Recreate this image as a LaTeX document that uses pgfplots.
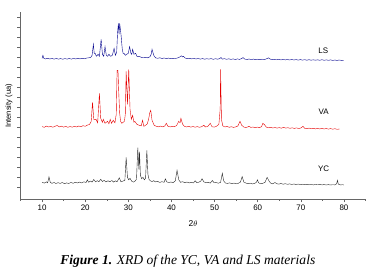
\documentclass[border=0pt]{standalone}
\usepackage{pgfplots}
\pgfplotsset{compat=1.18}
\usepackage{fontspec}
\setmainfont{Liberation Sans}
\newfontfamily\capfont{Liberation Serif}
\begin{document}
\begin{tikzpicture}
\begin{axis}[
  scale only axis,
  width=345bp, height=187bp,
  xmin=5, xmax=85, ymin=0, ymax=187,
  axis x line*=bottom, axis y line*=left,
  axis line style={draw=black!60, line width=0.5pt},
  tick align=outside,
  tick style={draw=black!60, line width=0.4pt},
  major tick length=3bp, minor tick length=1.5bp,
  xtick={10,20,...,80}, minor xtick={5,15,...,85},
  ytick={12,22,...,182}, yticklabels={},
  /pgf/number format/assume math mode=true,
  ticklabel style={font=\fontsize{8}{9}\selectfont},
  xticklabel style={yshift=1bp},
  xlabel={2$\theta$},
  xlabel style={font=\fontsize{8.5}{10}\selectfont, at={(axis description cs:0.5,0)}, anchor=center, yshift=-24bp},
  ylabel={Intensity (ua)},
  ylabel style={font=\fontsize{7.6}{9}\selectfont, at={(axis description cs:-0.0333,0.5)}, anchor=center},
  clip=false,
]
% YC
\addplot[black!85, line width=0.4pt] coordinates {
(10.0,17) (10.5,16.2) (11.0,17.4) (11.3,16.5) (11.6,22.5) (11.9,17) (12.3,16) (12.8,16.8) (13.2,15.8) (13.7,16.6)
(14.2,15.9) (14.7,16.8) (15.2,15.6) (15.7,16.4) (16.2,15.8) (16.7,16.9) (17.2,16) (17.7,17) (18.2,16.3) (18.7,17.2)
(19.2,16.4) (19.7,17.5) (20.2,16.8) (20.5,19.5) (20.8,17) (21.2,18.3) (21.6,17.2) (22.0,19.8) (22.4,17.5) (22.8,18.6)
(23.2,17.6) (23.6,20) (24.0,17.8) (24.4,18.9) (24.8,17.4) (25.3,18.5) (25.7,17.6) (26.2,18.8) (26.6,17.2) (27.0,18.4)
(27.4,17.6) (27.9,21.5) (28.3,17.5) (28.8,18.3) (29.2,19) (29.5,42) (29.8,22) (30.1,19.5) (30.4,21) (30.8,18)
(31.2,17.2) (31.6,18.4) (31.9,20) (32.2,51.7) (32.45,30) (32.6,47.7) (32.8,24) (33.1,20.5) (33.4,22) (33.7,19.5)
(34.0,21) (34.3,49) (34.55,25) (34.8,20) (35.1,18.5) (35.5,17.8) (35.9,18.6) (36.3,17.4) (36.8,17.9) (37.3,16.9)
(37.8,17.6) (38.3,17) (38.6,20.5) (38.9,17.4) (39.4,16.8) (39.9,17.3) (40.4,16.6) (40.9,18.5) (41.3,29) (41.7,19.5)
(42.1,17) (42.6,17.6) (43.1,16.6) (43.6,17.3) (44.1,16.4) (44.6,17) (45.1,16.3) (45.5,18.5) (45.9,16.6) (46.4,17.2)
(46.8,18.2) (47.1,20.5) (47.5,17.5) (48.0,16.5) (48.5,17) (49.0,16.2) (49.5,18.8) (49.9,16.5) (50.4,16.8) (50.9,16.1)
(51.4,17) (51.8,26) (52.1,18.5) (52.5,16.3) (53.0,15.9) (53.5,16.4) (54.0,15.7) (54.5,16.2) (55.0,15.5) (55.5,16)
(56.0,17.2) (56.4,22.7) (56.8,17.2) (57.3,16.2) (57.8,15.6) (58.3,16.1) (58.8,15.4) (59.3,15.9) (59.7,17) (59.95,19.5)
(60.2,16.5) (60.7,15.5) (61.2,16) (61.7,17) (62.2,22) (62.6,18.5) (63.0,16.2) (63.5,15.5) (64.0,16.8) (64.4,15.6)
(64.9,15.2) (65.4,15.8) (65.9,15.1) (66.4,15.6) (66.9,15) (67.4,15.4) (67.9,14.9) (68.4,15.3) (68.9,14.8) (69.4,15.2)
(69.9,14.7) (70.4,15.1) (70.9,14.6) (71.4,15) (71.9,14.5) (72.4,14.9) (72.9,14.4) (73.4,14.8) (73.9,14.5) (74.4,15)
(74.9,14.4) (75.4,14.8) (75.9,14.3) (76.4,14.7) (76.9,14.3) (77.4,14.6) (77.9,14.4) (78.3,15.5) (78.5,19) (78.7,15.2)
(79.2,14.4) (79.7,14.6) (80.0,14.3)
};
% VA
\addplot[red!90!black, line width=0.4pt] coordinates {
(10.0,72.7) (10.5,72) (11.0,73.2) (11.5,72.3) (12.0,72.9) (12.5,72.1) (13.0,73) (13.5,73.8) (14.0,72.4) (14.5,73.1)
(15.0,72.2) (15.5,72.9) (16.0,72) (16.5,72.8) (17.0,72.1) (17.5,73) (18.0,72.3) (18.5,73.3) (19.0,72.6) (19.5,73.6)
(20.0,73) (20.5,74.2) (21.0,74.8) (21.4,78) (21.7,97) (22.0,80) (22.5,80) (22.9,76.5) (23.3,106) (23.6,81)
(24.0,77) (24.2,80) (24.6,76) (25.2,78) (25.5,75.5) (25.8,80) (26.1,76) (26.5,79) (26.9,76.5) (27.2,85)
(27.4,129) (27.6,129) (27.8,105) (28.0,86) (28.2,78) (28.5,76) (28.8,77) (29.1,78) (29.3,85) (29.5,128)
(29.8,95) (30.1,130) (30.4,90) (30.7,80) (31.0,84) (31.3,77) (31.5,78) (32.0,75) (32.5,74) (33.0,73.5)
(33.3,79) (33.6,73) (34.0,74) (34.4,75.5) (34.7,80) (35.0,87) (35.2,89) (35.5,79) (36.0,74) (36.5,73)
(37.0,72.5) (37.5,73.2) (38.0,72.4) (38.5,73.5) (38.8,76) (39.2,73) (39.7,72.4) (40.2,73) (40.7,72.6) (41.2,73.8)
(41.7,78) (42.0,76.5) (42.2,81) (42.6,75) (43.0,73) (43.5,72.3) (44.0,73) (44.5,72.2) (45.0,72.8) (45.5,72.1)
(46.0,72.7) (46.5,72) (47.0,72.6) (47.5,74) (47.9,72.3) (48.4,72.8) (49.0,76) (49.4,72.6) (49.9,72.2) (50.4,72.9)
(51.0,75) (51.3,90) (51.4,130) (51.6,80) (51.9,73.5) (52.4,72.3) (52.9,72.9) (53.4,72) (53.9,72.6) (54.4,71.9)
(54.9,72.4) (55.4,73.3) (55.9,78) (56.3,74) (56.8,72.2) (57.3,71.8) (57.7,72.4) (58.0,73) (58.4,71.9) (58.9,72.3)
(59.4,71.6) (59.9,72.2) (60.4,71.7) (60.9,72.6) (61.2,76) (61.6,74.5) (62.0,72.2) (62.5,71.5) (63.0,72) (63.5,71.3)
(64.0,71.8) (64.5,71.2) (65.0,71.7) (65.5,71.1) (66.0,72) (66.5,71.2) (67.0,71.6) (67.5,71) (68.0,71.5) (68.5,70.9)
(69.0,71.4) (69.5,70.8) (70.0,71.3) (70.5,73) (70.9,71) (71.4,70.6) (71.9,71.2) (72.4,70.5) (72.9,71) (73.4,70.4)
(73.9,70.9) (74.4,70.3) (74.9,71) (75.4,70.3) (75.9,70.8) (76.4,70.2) (76.9,70.7) (77.4,70.1) (77.9,70.6) (78.4,70) (79.0,70.3)
};
% LS
\addplot[blue!55!black, line width=0.4pt] coordinates {
(10.0,141) (10.2,144) (10.4,141) (10.8,140.4) (11.3,141) (11.8,140.3) (12.3,140.9) (12.8,140.2) (13.3,140.8) (13.8,140.2)
(14.3,140.7) (14.8,140.1) (15.3,140.7) (15.8,140.2) (16.3,140.8) (16.8,140.2) (17.3,140.9) (17.8,140.3) (18.3,141) (18.8,140.4)
(19.3,141) (19.8,140.5) (20.3,141.2) (20.8,141.5) (21.3,142) (21.6,144) (21.9,155) (22.1,146) (22.3,146) (22.6,143)
(23.0,145) (23.3,143) (23.7,160) (24.0,145) (24.3,143) (24.6,152.7) (24.9,144) (25.2,143) (25.5,145) (25.9,143)
(26.3,144) (26.7,151) (27.0,144) (27.3,147) (27.5,166) (27.7,176) (27.85,165) (28.0,176) (28.3,165) (28.6,150)
(28.8,146) (29.0,146) (29.3,144) (29.6,145) (30.0,146) (30.3,152.7) (30.6,146) (30.8,145) (31.0,150) (31.3,145)
(31.7,146) (32.0,143) (32.5,143) (33.0,142) (33.5,141.5) (34.0,142) (34.5,141.5) (35.0,142.5) (35.3,145) (35.5,150)
(35.9,144) (36.3,141.5) (36.8,141) (37.3,141.5) (37.8,140.8) (38.3,141.3) (38.8,140.7) (39.3,141.2) (39.8,140.6) (40.3,141)
(40.8,140.7) (41.3,141.2) (41.8,142) (42.3,143.5) (42.6,142.4) (42.8,143) (43.2,141.2) (43.7,140.7) (44.2,141) (44.7,140.4)
(45.2,140.9) (45.7,140.3) (46.2,140.8) (46.7,140.2) (47.2,140.7) (47.7,140.1) (48.2,140.6) (48.7,140.2) (49.2,140.7) (49.7,140)
(50.2,140.6) (50.7,140.1) (51.2,140.7) (51.5,141.8) (51.8,140.2) (52.3,140.6) (52.8,140) (53.3,140.5) (53.8,139.9) (54.3,140.4)
(54.8,139.8) (55.3,140.4) (55.8,139.9) (56.3,140.8) (56.6,141.7) (57.0,140.2) (57.5,139.8) (58.0,140.3) (58.5,139.7) (59.0,140.2)
(59.5,139.6) (60.0,140.1) (60.5,139.6) (61.0,140.1) (61.5,139.7) (62.0,140.4) (62.5,141.5) (62.9,140.2) (63.4,139.6) (63.9,140)
(64.4,139.5) (64.9,139.9) (65.4,139.4) (65.9,139.9) (66.4,139.4) (66.9,139.8) (67.4,139.3) (67.9,139.8) (68.4,139.3) (68.9,139.7)
(69.4,139.2) (69.9,139.7) (70.4,139.2) (70.9,139.6) (71.4,139.1) (71.9,139.6) (72.4,139.1) (72.9,139.5) (73.4,139.1) (73.9,139.5)
(74.4,139) (74.9,139.6) (75.4,139) (75.9,139.4) (76.4,139) (76.9,139.4) (77.4,138.9) (77.9,139.3) (78.4,138.9) (78.9,139.3)
(79.4,138.9) (80.0,139.1)
};
\node[font=\fontsize{8}{9}\selectfont] at (axis cs:75.2,149) {LS};
\node[font=\fontsize{8}{9}\selectfont] at (axis cs:75.3,87.6) {VA};
\node[font=\fontsize{8}{9}\selectfont] at (axis cs:75.3,30.3) {YC};
\node[font=\capfont\fontsize{13.6}{15}\selectfont, anchor=center] at (axis cs:43.8,-62) {\textbf{\textit{Figure 1.}} \textit{XRD of the YC, VA and LS materials}};
\end{axis}
\pgfresetboundingbox
\path[use as bounding box] (-20.5bp,-76.7bp) rectangle (352.5bp,199.3bp);
\end{tikzpicture}
\end{document}
